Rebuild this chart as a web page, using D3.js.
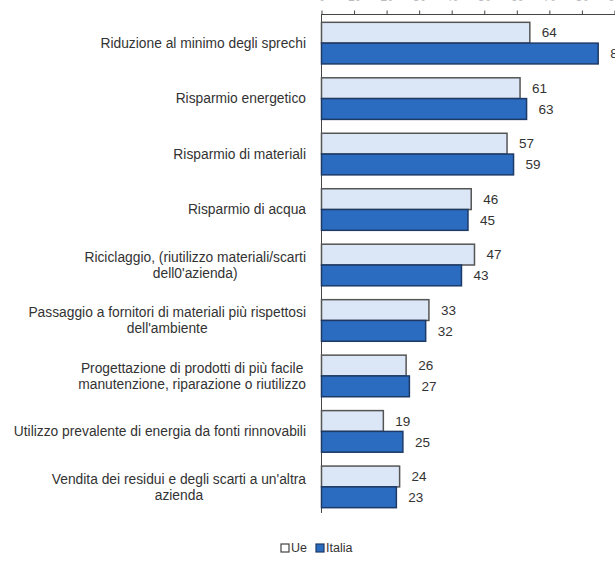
<html>
<head>
<style>
  body { margin: 0; background: #fff; }
  text { font-family: "Liberation Sans", Arial, sans-serif; fill: #333; }
</style>
</head>
<body>
<svg id="chart" width="615" height="563"></svg>
<script src="https://cdn.jsdelivr.net/npm/d3@7"></script>
<script>
  // data
  const categories = [
    ["Riduzione al minimo degli sprechi"],
    ["Risparmio energetico"],
    ["Risparmio di materiali"],
    ["Risparmio di acqua"],
    ["Riciclaggio, (riutilizzo materiali/scarti", "dell0'azienda)"],
    ["Passaggio a fornitori di materiali più rispettosi", "dell'ambiente"],
    ["Progettazione di prodotti di più facile", "manutenzione, riparazione o riutilizzo"],
    ["Utilizzo prevalente di energia da fonti rinnovabili"],
    ["Vendita dei residui e degli scarti a un'altra", "azienda"]
  ]
  const ue = [64, 61, 57, 46, 47, 33, 26, 19, 24]
  const italia = [85, 63, 59, 45, 43, 32, 27, 25, 23]
  const ticks = [0, 10, 20, 30, 40, 50, 60, 70, 80, 90]

  const svg = d3.select("#chart")
  const x0 = 321.5

  let x = d3.scaleLinear().domain([0, 90]).range([x0, x0 + 90 * 3.255])
  let y = d3.scaleBand().domain(d3.range(categories.length))
      .range([14, 516]).paddingInner(0.25).paddingOuter(0.15)
  let half = y.bandwidth() / 2

  // top axis, labels mostly cut off at the top edge like in the source
  let xAxis = d3.axisTop(x).tickValues(ticks).tickSize(4).tickFormat(d => d)
  let ax = svg.append("g").attr("transform", "translate(0,14.5)").call(xAxis)
  ax.select(".domain").attr("stroke", "#444").attr("d", `M${x0},0H${x(90) + 8}`)
  ax.selectAll(".tick line").attr("stroke", "#444")
  ax.selectAll(".tick text").attr("y", -13.5).style("font-size", "12px").style("fill", "#bbb")
      .style("font-family", "Liberation Sans, Arial, sans-serif")

  // left axis line
  svg.append("line").attr("x1", x0).attr("x2", x0).attr("y1", 14).attr("y2", 513)
      .attr("stroke", "#444")

  let g = svg.append("g")

  g.selectAll("rect.ue").data(ue).enter().append("rect")
      .attr("class", "ue")
      .attr("x", x(0))
      .attr("y", (d, i) => y(i))
      .attr("width", d => x(d) - x(0))
      .attr("height", half)
      .style("fill", "#dbe7f6").style("stroke", "#555").style("stroke-width", 1.5)

  g.selectAll("rect.it").data(italia).enter().append("rect")
      .attr("class", "it")
      .attr("x", x(0))
      .attr("y", (d, i) => y(i) + half)
      .attr("width", d => x(d) - x(0))
      .attr("height", half)
      .style("fill", "#2b6cc0").style("stroke", "#1d3a66").style("stroke-width", 1.5)

  // value labels
  g.selectAll("text.vu").data(ue).enter().append("text")
      .attr("x", d => x(d) + 12).attr("y", (d, i) => y(i) + half / 2)
      .attr("dy", "0.35em").style("font-size", "13.5px").text(d => d)
  g.selectAll("text.vi").data(italia).enter().append("text")
      .attr("x", d => x(d) + 12).attr("y", (d, i) => y(i) + half * 1.5)
      .attr("dy", "0.35em").style("font-size", "13.5px").text(d => d)

  // category labels: block right aligned, lines centred within the block
  const right = 306
  categories.forEach((lines, i) => {
    let t = svg.append("text").style("font-size", "13.8px")
    let spans = lines.map((l, k) => t.append("tspan").text(l))
    let w = d3.max(spans, s => s.node().getComputedTextLength())
    let cy = y(i) + half - (lines.length - 1) * 8
    spans.forEach((s, k) => {
      s.attr("x", lines.length > 1 ? right - w / 2 : right)
       .attr("y", cy + k * 16)
       .attr("dy", "0.35em")
    })
    t.attr("text-anchor", lines.length > 1 ? "middle" : "end")
  })

  // legend
  let legend = svg.append("g").attr("transform", "translate(281,548)")
  legend.append("rect").attr("x", 0).attr("y", -4).attr("width", 8).attr("height", 8)
      .style("fill", "#fff").style("stroke", "#444").style("stroke-width", 1.2)
  legend.append("text").attr("x", 10).attr("dy", "0.35em").style("font-size", "12.5px").text("Ue")
  legend.append("rect").attr("x", 35).attr("y", -4).attr("width", 8).attr("height", 8)
      .style("fill", "#2b6cc0").style("stroke", "#1d3a66").style("stroke-width", 1.2)
  legend.append("text").attr("x", 45).attr("dy", "0.35em").style("font-size", "12.5px").text("Italia")
</script>
</body>
</html>
